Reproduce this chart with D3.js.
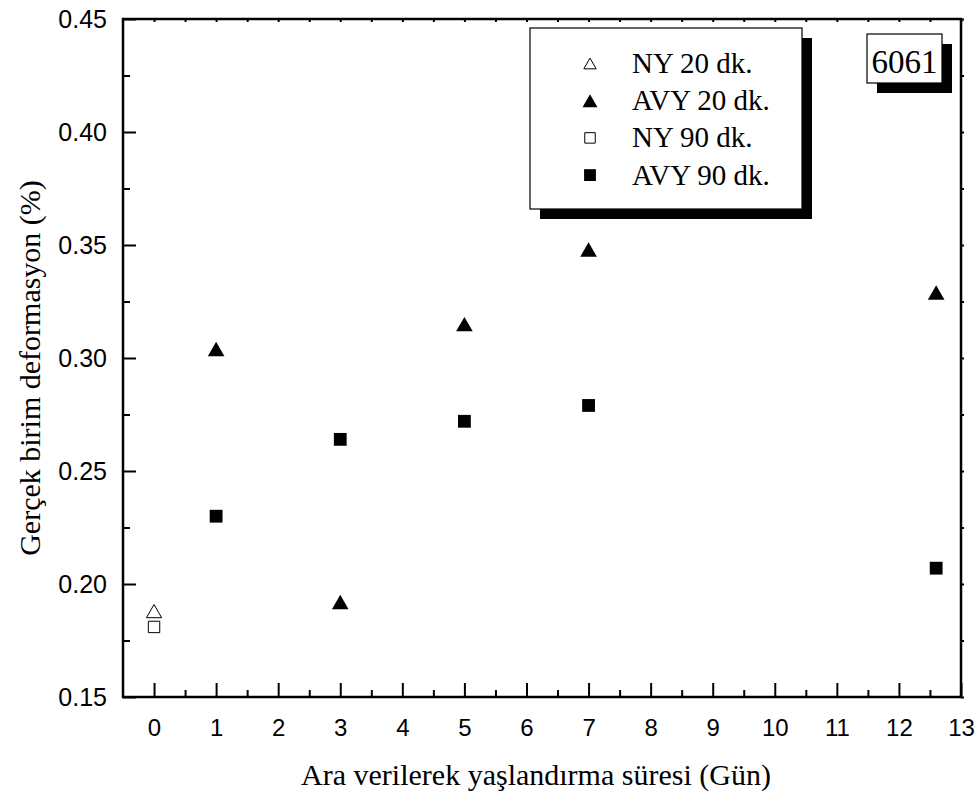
<!DOCTYPE html>
<html>
<head>
<meta charset="utf-8">
<script src="https://cdn.jsdelivr.net/npm/d3@7"></script>
<style>
  html, body { margin: 0; padding: 0; background: #fff; }
  svg { display: block; }
</style>
</head>
<body>
<div id="wrapper"></div>
<script>
// values
const xTickValues = [0, 1, 2, 3, 4, 5, 6, 7, 8, 9, 10, 11, 12, 13];
const xMinorValues = [0.5, 1.5, 2.5, 3.5, 4.5, 5.5, 6.5, 7.5, 8.5, 9.5, 10.5, 11.5, 12.5];
const yTickValues = [0.15, 0.20, 0.25, 0.30, 0.35, 0.40, 0.45];
const yMinorValues = [0.175, 0.225, 0.275, 0.325, 0.375, 0.425];

const ny20Days = [0];
const ny20Strain = [0.188];
const avy20Days = [1, 3, 5, 7, 12.6];
const avy20Strain = [0.304, 0.192, 0.315, 0.348, 0.329];
const ny90Days = [0];
const ny90Strain = [0.181];
const avy90Days = [1, 3, 5, 7, 12.6];
const avy90Strain = [0.230, 0.264, 0.272, 0.279, 0.207];

const legendLabels = ["NY 20 dk.", "AVY 20 dk.", "NY 90 dk.", "AVY 90 dk."];

const serif = "'Liberation Serif', 'Times New Roman', serif";
const sans = "'Liberation Sans', Arial, sans-serif";

let dimensions = {
  width: 980,
  height: 795,
  margin: { top: 19, right: 19, bottom: 98, left: 123 },
};
dimensions.boundedWidth = dimensions.width - dimensions.margin.left - dimensions.margin.right;
dimensions.boundedHeight = dimensions.height - dimensions.margin.top - dimensions.margin.bottom;

const wrapper = d3.select("#wrapper")
  .append("svg")
  .attr("width", dimensions.width)
  .attr("height", dimensions.height);

const bounds = wrapper.append("g")
  .attr("transform", `translate(${dimensions.margin.left},${dimensions.margin.top})`);

const xScale = d3.scaleLinear()
  .domain([-0.5, 13])
  .range([0, dimensions.boundedWidth]);

const yScale = d3.scaleLinear()
  .domain([0.15, 0.45])
  .range([dimensions.boundedHeight, 0]);

// triangle centred on its bounding box (like the original plot)
const boxTriangle = {
  draw(context, size) {
    const w = Math.sqrt(size * 4 / Math.sqrt(3));
    const h = w * Math.sqrt(3) / 2;
    context.moveTo(0, -h / 2);
    context.lineTo(w / 2, h / 2);
    context.lineTo(-w / 2, h / 2);
    context.closePath();
  },
};

const triFilled = d3.symbol().type(boxTriangle).size(120)();
const triOpen = d3.symbol().type(boxTriangle).size(100)();
const sqFilled = d3.symbol().type(d3.symbolSquare).size(164)();
const sqOpen = d3.symbol().type(d3.symbolSquare).size(130)();

// axes: major ticks inward, minor half length
const axisColor = "#000";
const drawAxis = (gen, transform) => {
  const g = bounds.append("g").attr("transform", transform).call(gen);
  g.select(".domain").remove();
  g.selectAll(".tick line").attr("stroke", axisColor).attr("stroke-width", 2);
  return g;
};

const xAxis = drawAxis(
  d3.axisBottom(xScale).tickValues(xTickValues).tickSizeInner(-14).tickSizeOuter(0).tickPadding(22).tickFormat(d3.format("d")),
  `translate(0,${dimensions.boundedHeight})`
);
xAxis.selectAll("text")
  .attr("font-family", sans)
  .attr("font-size", 24)
  .attr("fill", "#000");

drawAxis(
  d3.axisBottom(xScale).tickValues(xMinorValues).tickSizeInner(-7).tickSizeOuter(0).tickFormat(""),
  `translate(0,${dimensions.boundedHeight})`
);

const yAxis = drawAxis(
  d3.axisLeft(yScale).tickValues(yTickValues).tickSizeInner(-13).tickSizeOuter(0).tickPadding(16).tickFormat(d3.format(".2f")),
  "translate(0,0)"
);
yAxis.selectAll("text")
  .attr("font-family", sans)
  .attr("font-size", 25)
  .attr("fill", "#000");

drawAxis(
  d3.axisLeft(yScale).tickValues(yMinorValues).tickSizeInner(-7).tickSizeOuter(0).tickFormat(""),
  "translate(0,0)"
);

// tiny mirror ticks on top and right
drawAxis(
  d3.axisTop(xScale).tickValues(xTickValues.concat(xMinorValues)).tickSizeInner(-3).tickSizeOuter(0).tickFormat(""),
  "translate(0,0)"
);
drawAxis(
  d3.axisRight(yScale).tickValues(yTickValues.concat(yMinorValues)).tickSizeInner(3).tickSizeOuter(0).tickFormat(""),
  `translate(${dimensions.boundedWidth},0)`
);

// frame
bounds.append("rect")
  .attr("x", 0)
  .attr("y", 0)
  .attr("width", dimensions.boundedWidth)
  .attr("height", dimensions.boundedHeight)
  .attr("fill", "none")
  .attr("stroke", axisColor)
  .attr("stroke-width", 2.5);

// data
const plotSeries = (days, strain, path, fill, stroke, sw) => {
  bounds.append("g")
    .selectAll("path")
    .data(days.map((d, i) => [d, strain[i]]))
    .enter()
    .append("path")
    .attr("d", path)
    .attr("transform", (d) => `translate(${xScale(d[0])},${yScale(d[1])})`)
    .attr("fill", fill)
    .attr("stroke", stroke)
    .attr("stroke-width", sw);
};

plotSeries(ny20Days, ny20Strain, triOpen, "#fff", "#000", 1);
plotSeries(avy20Days, avy20Strain, triFilled, "#000", "none", 0);
plotSeries(ny90Days, ny90Strain, sqOpen, "#fff", "#000", 1);
plotSeries(avy90Days, avy90Strain, sqFilled, "#000", "none", 0);

// legend box with drop shadow
const legend = wrapper.append("g").attr("transform", "translate(530,28)");
legend.append("rect")
  .attr("x", 10).attr("y", 10)
  .attr("width", 272).attr("height", 181)
  .attr("fill", "#000");
legend.append("rect")
  .attr("x", 0).attr("y", 0)
  .attr("width", 272).attr("height", 181)
  .attr("fill", "#fff")
  .attr("stroke", "#000")
  .attr("stroke-width", 1.2);

const legendSymbols = [
  { path: d3.symbol().type(boxTriangle).size(66)(), fill: "#fff", stroke: "#000" },
  { path: d3.symbol().type(boxTriangle).size(97)(), fill: "#000", stroke: "none" },
  { path: d3.symbol().type(d3.symbolSquare).size(110)(), fill: "#fff", stroke: "#000" },
  { path: d3.symbol().type(d3.symbolSquare).size(140)(), fill: "#000", stroke: "none" },
];

const legendRows = legend.selectAll("g.row")
  .data(legendLabels)
  .enter()
  .append("g")
  .attr("class", "row")
  .attr("transform", (d, i) => `translate(0,${35.5 + i * 37.2})`);

legendRows.append("path")
  .attr("d", (d, i) => legendSymbols[i].path)
  .attr("transform", "translate(60,0)")
  .attr("fill", (d, i) => legendSymbols[i].fill)
  .attr("stroke", (d, i) => legendSymbols[i].stroke)
  .attr("stroke-width", 1);

legendRows.append("text")
  .attr("x", 102)
  .attr("y", 9.5)
  .attr("font-family", serif)
  .attr("font-size", 29)
  .attr("fill", "#000")
  .text((d) => d);

// alloy tag
const tag = wrapper.append("g").attr("transform", "translate(867,34)");
tag.append("rect")
  .attr("x", 10).attr("y", 10)
  .attr("width", 75).attr("height", 49)
  .attr("fill", "#000");
tag.append("rect")
  .attr("width", 75).attr("height", 49)
  .attr("fill", "#fff")
  .attr("stroke", "#000")
  .attr("stroke-width", 1.2);
tag.append("text")
  .attr("x", 37.5)
  .attr("y", 39)
  .attr("text-anchor", "middle")
  .attr("font-family", serif)
  .attr("font-size", 33)
  .attr("fill", "#000")
  .text("6061");

// axis titles
wrapper.append("text")
  .attr("x", dimensions.margin.left + dimensions.boundedWidth / 2 - 6)
  .attr("y", 785)
  .attr("text-anchor", "middle")
  .attr("font-family", serif)
  .attr("font-size", 30)
  .attr("fill", "#000")
  .text("Ara verilerek yaşlandırma süresi (Gün)");

wrapper.append("text")
  .attr("transform", `translate(40,${368}) rotate(-90)`)
  .attr("text-anchor", "middle")
  .attr("font-family", serif)
  .attr("font-size", 30)
  .attr("fill", "#000")
  .text("Gerçek birim deformasyon (%)");
</script>
</body>
</html>
